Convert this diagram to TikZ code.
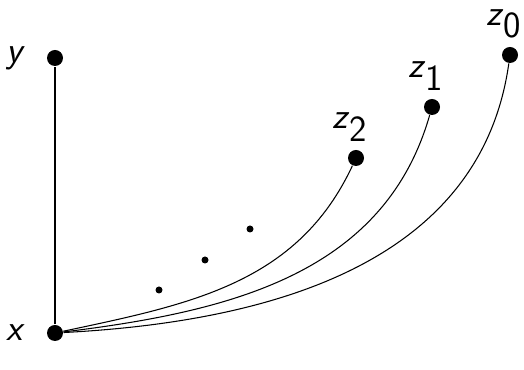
\documentclass[tikz,border=0pt]{standalone}
\usetikzlibrary{positioning}

\newcommand{\sflab}[1]{\textsf{\textit{#1}}}

\begin{document}
\begin{tikzpicture}[font=\fontsize{21}{25}\selectfont, line width=0.6pt,
    bigdot/.style={circle, fill, inner sep=0pt, minimum size=3.2mm},
    smalldot/.style={circle, fill, inner sep=0pt, minimum size=1.4mm}]
    \useasboundingbox (0,0) rectangle (10.48,7.4);
    \node[bigdot] (x) at (1.1,0.74) {};
    \node[bigdot] (y) at (1.1,6.24) {};
    \node[left=0.3cm of x] (xlab) {\sflab{x}};
    \node[left=0.3cm of y] (ylab) {\sflab{y}};
    \draw (x) -- (y);
    \foreach \i/\px/\py/\o/\n in {0/10.2/6.3/3/-98, 1/8.64/5.26/7/-106, 2/7.12/4.24/12/-115}
    {
        \node[bigdot] (z\i) at (\px,\py) {};
        \node[inner sep=1pt, above=0.12cm of z\i, xshift=-0.12cm] (zlab\i) {\sflab{z}$_{\textsf{\i}}$};
        \draw (x) to[out=\o, in=\n] (z\i);
    }
    % dots between the curves
    \node[smalldot] (d1) at (3.18,1.6) {};
    \node[smalldot] (d2) at (4.1,2.2) {};
    \node[smalldot] (d3) at (5.0,2.82) {};
\end{tikzpicture}
\end{document}
